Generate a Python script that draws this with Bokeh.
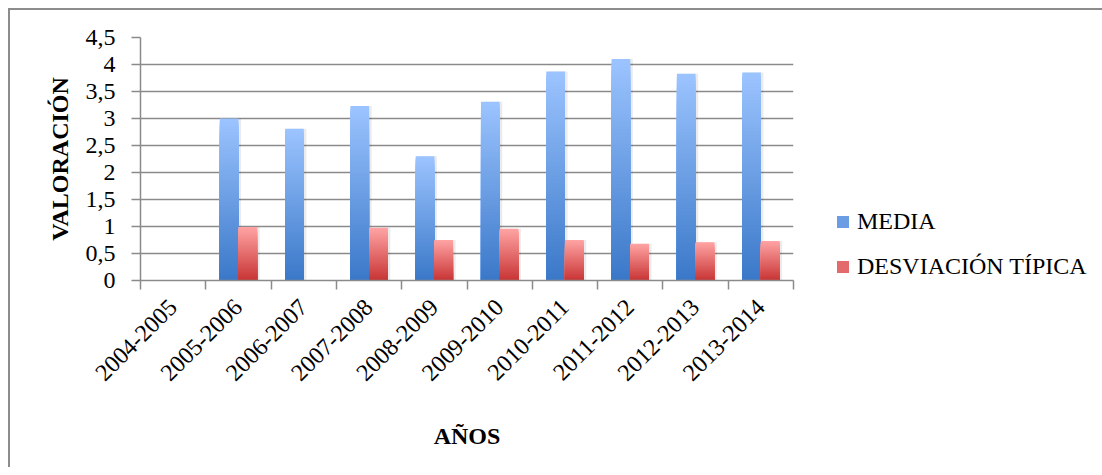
import math
from bokeh.plotting import figure
from bokeh.models import FixedTicker, Legend, LegendItem, Range1d, ColumnDataSource
from bokeh.embed import file_html
from bokeh.resources import INLINE

# ---------------- data ----------------
years = ["2004-2005", "2005-2006", "2006-2007", "2007-2008", "2008-2009",
         "2009-2010", "2010-2011", "2011-2012", "2012-2013", "2013-2014"]
media = [None, 3.00, 2.81, 3.23, 2.30, 3.31, 3.87, 4.10, 3.83, 3.85]
desviacion = [None, 0.99, None, 0.975, 0.75, 0.96, 0.75, 0.68, 0.71, 0.73]
y_ticks = [0, 0.5, 1, 1.5, 2, 2.5, 3, 3.5, 4, 4.5]
y_tick_labels = ["0", "0,5", "1", "1,5", "2", "2,5", "3", "3,5", "4", "4,5"]
series_names = ["MEDIA", "DESVIACIÓN TÍPICA"]

FONT = "Liberation Serif"
GRID = "#8a8a8a"

p = figure(width=1084, height=457, output_backend="svg", toolbar_location=None,
           x_range=Range1d(0, len(years)), y_range=Range1d(0, 4.5),
           frame_width=653, frame_height=243,
           min_border_left=130, min_border_top=27, min_border_right=301,
           min_border_bottom=187)
p.outline_line_color = None
p.background_fill_color = "white"
p.border_fill_color = "white"
p.styles = {"border-top": "2px solid #8c8c8c", "border-left": "2px solid #8c8c8c",
            "margin-top": "8px", "margin-left": "8px"}


def mix(c1, c2, t):
    return "#%02x%02x%02x" % tuple(int(round(a + (b - a) * t)) for a, b in zip(c1, c2))


N = 60
bar_w = 0.286
specs = [
    (media, -bar_w / 2, (58, 120, 200), (156, 196, 255)),
    (desviacion, bar_w / 2, (200, 52, 52), (255, 164, 164)),
]
renderers = []
for vals, off, dark, light in specs:
    d = dict(x=[], top=[], color=[])
    sh = dict(x=[], top=[])
    for i, v in enumerate(vals):
        if v is None:
            continue
        sh["x"].append(i + 0.5 + off + 0.04)
        sh["top"].append(v)
    # overlapping bars from tall/light to short/dark -> smooth gradient without seams
    for k in range(N):
        frac = (N - k) / N
        t = (N - k - 0.5) / N
        for i, v in enumerate(vals):
            if v is None:
                continue
            d["x"].append(i + 0.5 + off)
            d["top"].append(v * frac)
            d["color"].append(mix(dark, light, t))
    p.vbar(x="x", top="top", bottom=0, width=bar_w, source=ColumnDataSource(sh),
           fill_color="#000000", fill_alpha=0.08, line_color=None)
    r = p.vbar(x="x", bottom=0, top="top", width=bar_w, source=ColumnDataSource(d),
               fill_color="color", line_color=None)
    renderers.append((r, sum(1 for v in vals if v is not None)))

# ---------------- axes ----------------
p.xgrid.grid_line_color = None
p.ygrid.ticker = FixedTicker(ticks=y_ticks)
p.ygrid.grid_line_color = GRID
p.ygrid.grid_line_width = 1.5

p.yaxis.ticker = FixedTicker(ticks=y_ticks, minor_ticks=[])
p.yaxis.major_label_overrides = {t: l for t, l in zip(y_ticks, y_tick_labels)}
p.yaxis.major_tick_out = 9
p.yaxis.major_tick_in = 0
p.yaxis.major_tick_line_color = GRID
p.yaxis.major_tick_line_width = 1.5
p.yaxis.axis_line_color = GRID
p.yaxis.axis_line_width = 1.5
p.yaxis.major_label_standoff = 16
p.yaxis.major_label_text_font = FONT
p.yaxis.major_label_text_font_size = "24px"
p.yaxis.major_label_text_color = "black"
p.yaxis.axis_label = "VALORACIÓN"
p.yaxis.axis_label_text_font = FONT
p.yaxis.axis_label_text_font_size = "24px"
p.yaxis.axis_label_text_font_style = "bold"
p.yaxis.axis_label_text_color = "black"
p.yaxis.axis_label_standoff = 10

centers = [i + 0.5 for i in range(len(years))]
p.xaxis.ticker = FixedTicker(ticks=centers, minor_ticks=list(range(len(years) + 1)))
p.xaxis.major_label_overrides = {c: y for c, y in zip(centers, years)}
p.xaxis.major_tick_line_color = None
p.xaxis.minor_tick_out = 9
p.xaxis.minor_tick_in = 0
p.xaxis.minor_tick_line_color = GRID
p.xaxis.minor_tick_line_width = 1.5
p.xaxis.axis_line_color = GRID
p.xaxis.axis_line_width = 1.5
p.xaxis.major_label_orientation = math.pi / 4
p.xaxis.major_label_standoff = 14
p.xaxis.major_label_text_font = FONT
p.xaxis.major_label_text_font_size = "24px"
p.xaxis.major_label_text_color = "black"
p.xaxis.axis_label = "AÑOS"
p.xaxis.axis_label_text_font = FONT
p.xaxis.axis_label_text_font_size = "24px"
p.xaxis.axis_label_text_font_style = "bold"
p.xaxis.axis_label_text_color = "black"
p.xaxis.axis_label_standoff = 32

# ---------------- legend ----------------
items = []
for n, (r, cnt) in zip(series_names, renderers):
    items.append(LegendItem(label=n, renderers=[r], index=cnt * (N // 2)))
legend = Legend(
    items=items,
    location=(42, 0), orientation="vertical",
    background_fill_alpha=0, border_line_color=None,
    label_text_font=FONT, label_text_font_size="24px", label_text_color="black",
    glyph_width=15, glyph_height=15, label_standoff=7, spacing=18,
    padding=0, margin=0)
p.add_layout(legend, "right")

open("out.html", "w").write(file_html(p, INLINE))
